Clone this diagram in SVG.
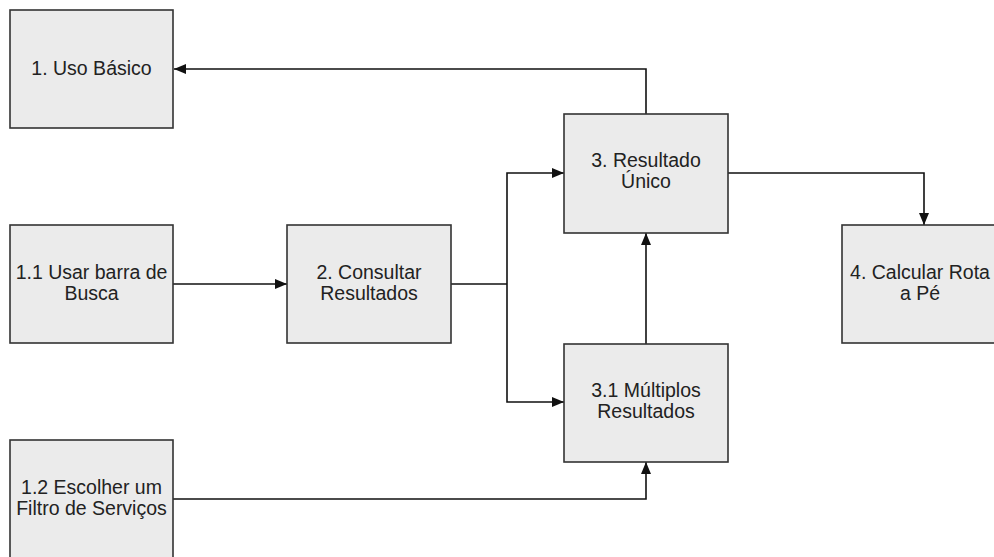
<svg xmlns="http://www.w3.org/2000/svg" width="994" height="557" viewBox="0 0 994 557">
  <style>
    .box { fill: #ebebeb; stroke: #333333; stroke-width: 1.6; }
    .lbl { font-family: "Liberation Sans", Arial, sans-serif; font-size: 19.5px; fill: #222222; text-anchor: middle; }
    .wire { fill: none; stroke: #111111; stroke-width: 1.6; }
  </style>
  <defs>
    <marker id="arrow" viewBox="0 0 12 10" refX="12" refY="5" markerWidth="12" markerHeight="10" markerUnits="userSpaceOnUse" orient="auto">
      <path d="M0,0 L12,5 L0,10 Z" fill="#111111"/>
    </marker>
  </defs>
  <rect width="994" height="557" fill="#ffffff"/>

  <g id="connectors">
    <path class="wire" d="M646,114 V69 H174" marker-end="url(#arrow)"/>
    <path class="wire" d="M173,284 H287" marker-end="url(#arrow)"/>
    <path class="wire" d="M451,284 H507"/>
    <path class="wire" d="M507,284 V173 H564" marker-end="url(#arrow)"/>
    <path class="wire" d="M507,284 V402 H564" marker-end="url(#arrow)"/>
    <path class="wire" d="M728,173 H924 V225" marker-end="url(#arrow)"/>
    <path class="wire" d="M646,344 V233" marker-end="url(#arrow)"/>
    <path class="wire" d="M173,499 H646 V462" marker-end="url(#arrow)"/>
  </g>

  <g id="uso-basico">
    <rect class="box" x="10" y="10" width="163" height="118"/>
    <text class="lbl" x="91.5" y="75">1. Uso Básico</text>
  </g>
  <g id="usar-barra">
    <rect class="box" x="10" y="225" width="163" height="118"/>
    <text class="lbl" x="91.5" y="279">1.1 Usar barra de</text>
    <text class="lbl" x="91.5" y="300">Busca</text>
  </g>
  <g id="escolher-filtro">
    <rect class="box" x="10" y="440" width="163" height="130"/>
    <text class="lbl" x="91.5" y="494">1.2 Escolher um</text>
    <text class="lbl" x="91.5" y="515">Filtro de Serviços</text>
  </g>
  <g id="consultar">
    <rect class="box" x="287" y="225" width="164" height="118"/>
    <text class="lbl" x="369" y="279">2. Consultar</text>
    <text class="lbl" x="369" y="300">Resultados</text>
  </g>
  <g id="resultado-unico">
    <rect class="box" x="564" y="114" width="164" height="119"/>
    <text class="lbl" x="646" y="167">3. Resultado</text>
    <text class="lbl" x="646" y="188">Único</text>
  </g>
  <g id="multiplos">
    <rect class="box" x="564" y="344" width="164" height="118"/>
    <text class="lbl" x="646" y="397">3.1 Múltiplos</text>
    <text class="lbl" x="646" y="418">Resultados</text>
  </g>
  <g id="calcular-rota">
    <rect class="box" x="842" y="225" width="164" height="118"/>
    <text class="lbl" x="920" y="279">4. Calcular Rota</text>
    <text class="lbl" x="920" y="300">a Pé</text>
  </g>
</svg>
